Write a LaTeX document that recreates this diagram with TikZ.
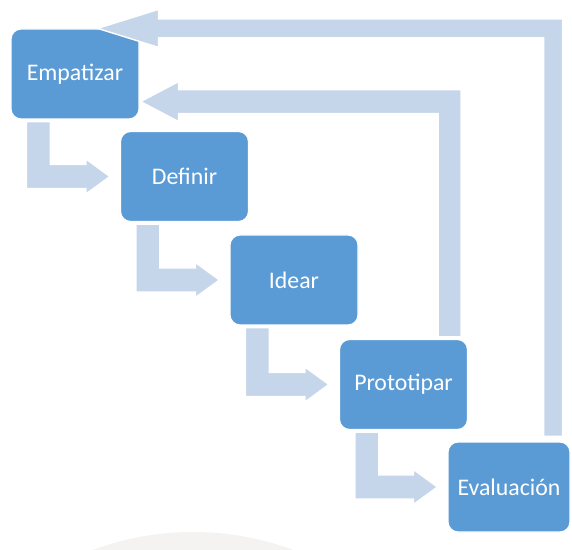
\documentclass[tikz,border=0pt]{standalone}
\usepackage{fontspec}
\setmainfont{Carlito}
\usetikzlibrary{calc}
\definecolor{cbox}{HTML}{5B9BD5}
\definecolor{cflow}{HTML}{C5D5EA}
\definecolor{cfaint}{HTML}{F5F2F2}
\tikzset{
  every picture/.style={x=0.5pt, y=-0.5pt},
  stage/.style={fill=cbox, draw=white, line width=0.6pt, rounded corners=5pt, text=white,
    font=\fontsize{11.9}{14}\selectfont, minimum width=64pt, minimum height=45pt, inner sep=0pt},
  flow/.style={fill=cflow, draw=white, line width=0.7pt, line join=miter},
}

\begin{document}
\begin{tikzpicture}
  \useasboundingbox (0,0) rectangle (572,550);
  % faint background disc at the bottom
  \begin{scope}
    \clip (0,0) rectangle (572,550);
    \fill[cfaint] (193,819) circle[radius=143.5pt];
  \end{scope}
  % the five stages, one step down and to the right each time
  \foreach \n/\t/\x/\y/\w in {emp/Empatizar/75/74/64, def/Definir/184.5/176.5/64,
      ide/Idear/294/280/64, pro/Prototipar/403.5/384.5/64, eva/Evaluación/509/487/61}
    \node[stage, minimum width=\w pt] (\n) at (\x,\y) {\t};
  % bent arrows from each stage into the next one
  \foreach \a/\b in {emp/def, def/ide, ide/pro, pro/eva}
    \filldraw[flow] ($(\a.south west)+(16,2)$) -- ($(\a.south west)+(40,2)$)
      |- ($(\b.west)+(-34,-12)$) -- ++(0,-5.5) -- ($(\b.west)+(-10,0)$)
      -- ++(-24,17.5) -- ++(0,-5.5) -| ($(\a.south west)+(16,2)$) -- cycle;
  % feedback from Prototipar back to Empatizar
  \coordinate (backin) at ($(emp.south east)+(1,-18)$);
  \filldraw[flow] ($(pro.north east)+(-30,-2)$) -- ($(pro.north east)+(-7,-2)$)
    |- ($(backin)+(38,-12)$) -- ++(0,-8) -- (backin) -- ++(38,20) -- ++(0,-8)
    -| ($(pro.north east)+(-30,-2)$) -- cycle;
  % feedback from Evaluación back to Empatizar
  \coordinate (backout) at ($(emp.north east)+(-42,0)$);
  \filldraw[flow] ($(eva.north east)+(-27,-5)$) -- ($(eva.north east)+(-8,-5)$)
    |- ($(backout)+(61,-9.5)$) -- ++(0,-9.5) -- (backout) -- ++(61,19) -- ++(0,-9.5)
    -| ($(eva.north east)+(-27,-5)$) -- cycle;
\end{tikzpicture}
\end{document}
